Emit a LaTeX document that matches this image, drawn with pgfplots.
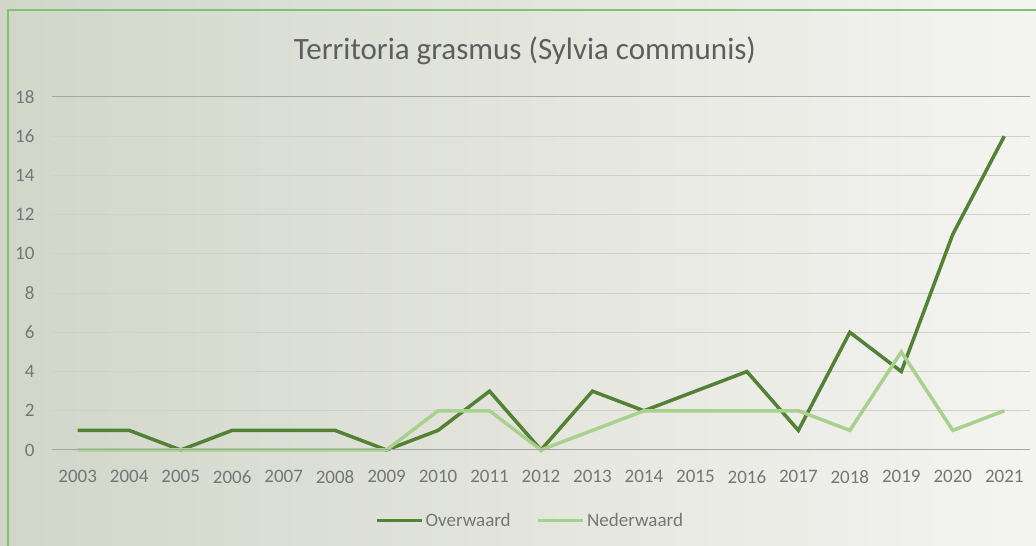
\documentclass[border=0pt]{standalone}
\usepackage{fontspec}
\setmainfont{Carlito}
\usepackage{pgfplots}
\pgfplotsset{compat=1.18}
\definecolor{overc}{HTML}{548235}
\definecolor{nederc}{HTML}{A9D18E}
\definecolor{gridc}{HTML}{D0D0CC}
\definecolor{txtc}{HTML}{767676}
\definecolor{bgl}{HTML}{D2D6C9}
\definecolor{bgr}{HTML}{F4F4F1}
\definecolor{borderc}{HTML}{7CC474}
\begin{document}
\begin{tikzpicture}[x=1pt,y=1pt]
\useasboundingbox (0,0) rectangle (1036,546);
\shade[left color=bgl, right color=bgr] (0,0) rectangle (1036,546);
\draw[borderc, line width=1.5pt] (8,0) -- (8,536) -- (1036,536);
\begin{axis}[
  at={(52pt,96pt)}, anchor=south west,
  scale only axis, width=978pt, height=353pt,
  xmin=-0.5, xmax=18.5, ymin=0, ymax=18,
  xtick={0,...,18},
  xticklabels={2003,2004,2005,2006,2007,2008,2009,2010,2011,2012,2013,2014,2015,2016,2017,2018,2019,2020,2021},
  ytick={0,2,...,18},
  axis line style={draw=none},
  major tick length=0pt,
  ymajorgrids, grid style={gridc, line width=1pt},
  tick label style={font=\fontsize{19}{22}\selectfont, text=txtc},
  /pgf/number format/assume math mode=true,
  yticklabel style={xshift=-14pt},
  xticklabel style={yshift=-17pt},
  title={Territoria grasmus (Sylvia communis)},
  title style={at={(axis description cs:0.4836,1.088)}, anchor=base, font=\fontsize{31}{36}\selectfont, text=txtc!80!black},
  legend columns=2,
  legend style={at={(axis description cs:0.4888,-0.2)}, anchor=center, draw=none, fill=none,
    font=\fontsize{19}{22}\selectfont, text=txtc, nodes={inner xsep=2pt},
    /tikz/every even column/.append style={column sep=24pt}},
  legend image code/.code={\draw[#1] (0pt,0pt) -- (45pt,0pt);},
  clip=false,
]
\addplot[overc, line width=3.5pt] coordinates {(0,1)(1,1)(2,0)(3,1)(4,1)(5,1)(6,0)(7,1)(8,3)(9,0)(10,3)(11,2)(12,3)(13,4)(14,1)(15,6)(16,4)(17,11)(18,16)};
\addplot[nederc, line width=3.5pt] coordinates {(0,0)(1,0)(2,0)(3,0)(4,0)(5,0)(6,0)(7,2)(8,2)(9,0)(10,1)(11,2)(12,2)(13,2)(14,2)(15,1)(16,5)(17,1)(18,2)};
\draw[gray!70, line width=1pt] (axis cs:-0.5,0) -- (axis cs:18.5,0);
\draw[gray!70, line width=1pt] (axis cs:-0.5,18) -- (axis cs:18.5,18);
\legend{Overwaard,Nederwaard}
\end{axis}
\end{tikzpicture}
\end{document}
